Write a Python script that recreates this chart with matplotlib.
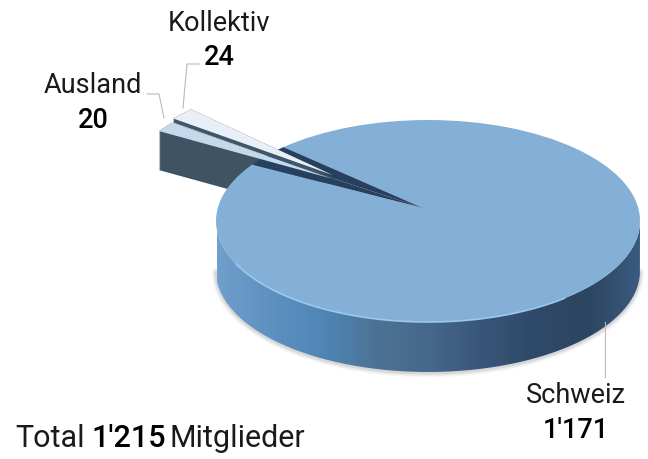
import numpy as np
import matplotlib
matplotlib.use('Agg')
import matplotlib.pyplot as plt
from matplotlib.colors import LinearSegmentedColormap
from matplotlib.patches import PathPatch
from matplotlib.path import Path

# Mitglieder nach Herkunft
kategorien = ['Schweiz', 'Kollektiv', 'Ausland']
mitglieder = [1171, 24, 20]
werte_text = ["1'171", '24', '20']
total_text = ["Total", "1'215", "Mitglieder"]

plt.rcParams['font.family'] = ['Roboto', 'DejaVu Sans']

fig = plt.figure(figsize=(6.48, 4.59), dpi=100)
ax = fig.add_axes([0, 0, 1, 1])


def flach(v, drop=0):
    # Einheitskreis -> Pixel, Spitze etwas nach oben links versetzt
    x, y = v[:, 0], v[:, 1]
    rest = np.clip(1 - x**2 - y**2, 0, 1)
    return np.column_stack([428 + 212 * x - 5 * rest,
                            221 - 101 * y - 13 * rest + drop])


def zeichne(keil, farbe, drop=0, **kw):
    p = keil.get_path()
    patch = PathPatch(Path(flach(p.vertices, drop), p.codes), fc=farbe, ec='none', **kw)
    ax.add_patch(patch)
    return patch


# Kuchen ohne und mit Explosion
ganz, _ = ax.pie(mitglieder, startangle=146)
explodiert, _ = ax.pie(mitglieder, startangle=146, explode=[0, 0.6, 0.55])
keile = list(ganz) + list(explodiert)
schweiz, koll_0, ausl_0 = ganz
_, koll, ausl = explodiert
ax.set_aspect('auto')

# Seitenwand Ausland
for d in range(0, 40):
    zeichne(ausl, '#3f5362', drop=d, zorder=2)

# Rand der grossen Scheibe mit Verlauf
t = np.radians(np.linspace(180, 360, 200))
kreis = np.column_stack([np.cos(t), np.sin(t)])
oben = flach(kreis)
unten = flach(kreis, drop=50)
rand = np.vstack([oben, unten[::-1], oben[:1]])
for w, a in [(6, 0.05), (4, 0.08), (2, 0.12)]:
    ax.plot(unten[:, 0], unten[:, 1] + 1, color='#555555', lw=w, alpha=a, zorder=2, solid_capstyle='round')
cm = LinearSegmentedColormap.from_list('rand', ['#6f9fcb', '#5e90c0', '#4f86b6', '#4c7395', '#46688a',
                                                '#39567a', '#2f4a68', '#2c4560', '#3a5a80'])
rand_patch = PathPatch(Path(rand), fc='none', ec='none', transform=ax.transData)
ax.add_patch(rand_patch)
im = ax.imshow(np.linspace(0, 1, 256)[None, :], extent=(217, 640, 380, 200), aspect='auto', cmap=cm, zorder=3)
im.set_clip_path(rand_patch)

# Deckflaeche
zeichne(schweiz, '#84afd6', zorder=4)
t2 = np.radians(np.linspace(205, 310, 120))
kante = flach(np.column_stack([np.cos(t2), np.sin(t2)]))
ax.plot(kante[:, 0], kante[:, 1], color='#9cc8ee', lw=1.2, zorder=5)

# Innenwand in der Kerbe
zeichne(koll_0, '#27405f', zorder=5)
zeichne(ausl_0, '#27405f', zorder=5)

# Herausgezogene Stuecke
zeichne(ausl, '#c4d9ec', zorder=7)
for d in range(4, 9):
    zeichne(koll, '#3f5568', drop=d, zorder=6)
zeichne(koll, '#e8eff6', drop=4, zorder=6.5)

for k in keile:
    k.remove()

# Hinweislinien
grau = '#b9b9b9'
ax.plot([199, 187, 183], [64, 64, 108], color=grau, lw=0.8, zorder=9)
ax.plot([147, 159, 164], [94, 94, 118], color=grau, lw=0.8, zorder=9)
ax.plot([605, 605], [322, 377], color=grau, lw=0.8, zorder=9)

# Beschriftung
sz = 19.5
ax.text(219, 31, kategorien[1], fontsize=sz, ha='center', va='baseline', color='#1a1a1a')
ax.text(219, 65, werte_text[1], fontsize=sz, ha='center', va='baseline', color='#000000', fontweight='medium')
ax.text(93, 93, kategorien[2], fontsize=sz, ha='center', va='baseline', color='#1a1a1a')
ax.text(93, 128, werte_text[2], fontsize=sz, ha='center', va='baseline', color='#000000', fontweight='medium')
ax.text(576, 403, kategorien[0], fontsize=sz, ha='center', va='baseline', color='#1a1a1a')
ax.text(576, 438, werte_text[0], fontsize=sz, ha='center', va='baseline', color='#000000', fontweight='medium')

st = 22
ax.text(15, 447, total_text[0], fontsize=st, ha='left', va='baseline', color='#1a1a1a')
ax.text(91, 447, total_text[1], fontsize=st, ha='left', va='baseline', color='#000000', fontweight='medium')
ax.text(170, 447, total_text[2], fontsize=st, ha='left', va='baseline', color='#1a1a1a')

ax.set_xlim(0, 648)
ax.set_ylim(459, 0)
ax.axis('off')
fig.savefig('out.png', dpi=100)
